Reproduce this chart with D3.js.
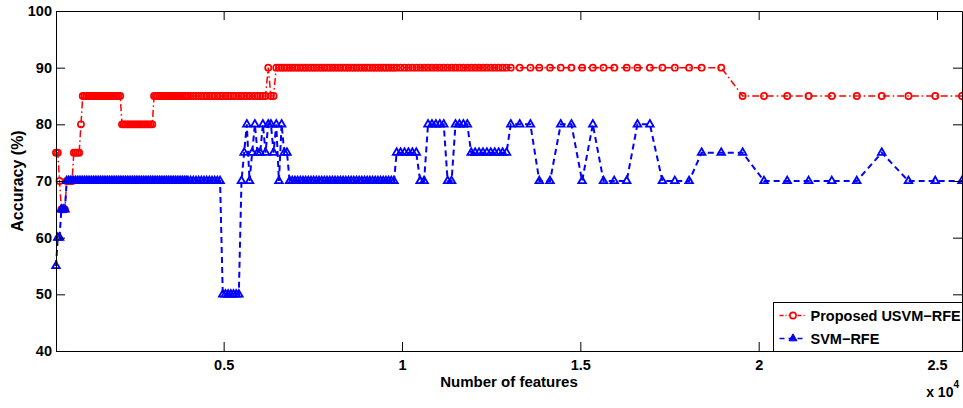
<!DOCTYPE html>
<html>
<head>
<meta charset="utf-8">
<script src="https://cdnjs.cloudflare.com/ajax/libs/d3/7.8.5/d3.min.js"></script>
<style>
  html, body { margin: 0; padding: 0; background: #fff; }
  svg { display: block; font-family: "Liberation Sans", Arial, Helvetica, sans-serif; font-weight: bold; }
</style>
</head>
<body>
<div id="chart"></div>
<script>
// Number of features kept at each RFE step (shared by both series)
const features = [
  300, 350, 400, 450, 500, 550, 600, 650, 700, 750,
  800, 850, 900, 950, 1000, 1050, 1100, 1150, 1200, 1250,
  1300, 1350, 1400, 1450, 1500, 1550, 1600, 1650, 1700, 1750,
  1800, 1850, 1900, 1950, 2000, 2050, 2100, 2150, 2200, 2250,
  2300, 2350, 2400, 2450, 2500, 2550, 2600, 2650, 2700, 2750,
  2800, 2850, 2900, 2950, 3000, 3050, 3100, 3150, 3200, 3250,
  3300, 3350, 3400, 3450, 3500, 3550, 3600, 3650, 3700, 3750,
  3800, 3850, 3900, 3950, 4000, 4075, 4150, 4225, 4300, 4375,
  4450, 4525, 4600, 4675, 4750, 4825, 4900, 4975, 5050, 5125,
  5200, 5275, 5350, 5425, 5500, 5575, 5650, 5725, 5800, 5875,
  5950, 6025, 6100, 6175, 6250, 6325, 6400, 6475, 6550, 6625,
  6700, 6775, 6850, 6925, 7000, 7075, 7150, 7225, 7300, 7375,
  7450, 7525, 7600, 7675, 7750, 7825, 7900, 7975, 8050, 8125,
  8200, 8275, 8350, 8425, 8500, 8575, 8650, 8725, 8800, 8875,
  8950, 9025, 9100, 9175, 9250, 9325, 9400, 9475, 9550, 9625,
  9700, 9775, 9850, 9960, 10070, 10180, 10290, 10400, 10510, 10620,
  10730, 10840, 10950, 11060, 11170, 11280, 11390, 11500, 11610, 11720,
  11830, 11940, 12050, 12160, 12270, 12380, 12490, 12600, 12710, 12820,
  12930, 13050, 13300, 13600, 13850, 14150, 14450, 14750, 15050, 15350,
  15650, 15950, 16300, 16600, 16950, 17300, 17650, 18050, 18400, 18950,
  19550, 20150, 20800, 21400, 22050, 22750, 23450, 24200, 24950, 25700
];

// Proposed USVM-RFE accuracy (%)
const usvmAccuracy = [
  75, 75, 70, 65, 65, 65, 70, 70, 70, 70,
  75, 75, 75, 75, 80, 85, 85, 85, 85, 85,
  85, 85, 85, 85, 85, 85, 85, 85, 85, 85,
  85, 85, 85, 85, 85, 85, 85, 80, 80, 80,
  80, 80, 80, 80, 80, 80, 80, 80, 80, 80,
  80, 80, 80, 80, 80, 85, 85, 85, 85, 85,
  85, 85, 85, 85, 85, 85, 85, 85, 85, 85,
  85, 85, 85, 85, 85, 85, 85, 85, 85, 85,
  85, 85, 85, 85, 85, 85, 85, 85, 85, 85,
  85, 85, 85, 85, 85, 85, 85, 85, 85, 85,
  85, 85, 85, 85, 90, 85, 85, 90, 90, 90,
  90, 90, 90, 90, 90, 90, 90, 90, 90, 90,
  90, 90, 90, 90, 90, 90, 90, 90, 90, 90,
  90, 90, 90, 90, 90, 90, 90, 90, 90, 90,
  90, 90, 90, 90, 90, 90, 90, 90, 90, 90,
  90, 90, 90, 90, 90, 90, 90, 90, 90, 90,
  90, 90, 90, 90, 90, 90, 90, 90, 90, 90,
  90, 90, 90, 90, 90, 90, 90, 90, 90, 90,
  90, 90, 90, 90, 90, 90, 90, 90, 90, 90,
  90, 90, 90, 90, 90, 90, 90, 90, 90, 90,
  85, 85, 85, 85, 85, 85, 85, 85, 85, 85
];

// SVM-RFE accuracy (%)
const svmAccuracy = [
  55, 60, 60, 65, 65, 65, 70, 70, 70, 70,
  70, 70, 70, 70, 70, 70, 70, 70, 70, 70,
  70, 70, 70, 70, 70, 70, 70, 70, 70, 70,
  70, 70, 70, 70, 70, 70, 70, 70, 70, 70,
  70, 70, 70, 70, 70, 70, 70, 70, 70, 70,
  70, 70, 70, 70, 70, 70, 70, 70, 70, 70,
  70, 70, 70, 70, 70, 70, 70, 70, 70, 70,
  70, 70, 70, 70, 70, 70, 70, 70, 70, 70,
  70, 70, 70, 70, 70, 70, 70, 50, 50, 50,
  50, 50, 50, 50, 70, 75, 80, 70, 75, 80,
  75, 75, 80, 75, 80, 80, 75, 80, 70, 80,
  75, 75, 70, 70, 70, 70, 70, 70, 70, 70,
  70, 70, 70, 70, 70, 70, 70, 70, 70, 70,
  70, 70, 70, 70, 70, 70, 70, 70, 70, 70,
  70, 70, 70, 70, 70, 70, 70, 70, 70, 70,
  70, 70, 75, 75, 75, 75, 75, 75, 70, 70,
  80, 80, 80, 80, 80, 70, 70, 80, 80, 80,
  80, 75, 75, 75, 75, 75, 75, 75, 75, 75,
  75, 80, 80, 80, 70, 70, 80, 80, 70, 80,
  70, 70, 70, 80, 80, 70, 70, 70, 75, 75,
  75, 70, 70, 70, 70, 70, 75, 70, 70, 70
];

const seriesNames = ["Proposed USVM\u2212RFE", "SVM\u2212RFE"];
const xTicks = [5000, 10000, 15000, 20000, 25000];
const yTicks = [40, 50, 60, 70, 80, 90, 100];

const width = 963, height = 408;
const margin = { top: 11, right: 1, bottom: 57, left: 56 };
const innerWidth = width - margin.left - margin.right;
const innerHeight = height - margin.top - margin.bottom;

const red = "#ff0000", blue = "#0000ff";

const svg = d3.select("#chart").append("svg")
  .attr("width", width)
  .attr("height", height);

const g = svg.append("g")
  .attr("transform", `translate(${margin.left},${margin.top})`);

// Scales (x is tight to the data, like MATLAB's axis tight)
const x = d3.scaleLinear()
  .domain(d3.extent(features))
  .range([0, innerWidth]);

const y = d3.scaleLinear()
  .domain([40, 100])
  .range([innerHeight, 0]);

const usvmData = features.map((f, i) => ({ f, v: usvmAccuracy[i] }));
const svmData = features.map((f, i) => ({ f, v: svmAccuracy[i] }));

const line = d3.line().x(d => x(d.f)).y(d => y(d.v));

const plot = g.append("g");

// Proposed USVM-RFE: red dash-dot with circles
plot.append("path")
  .datum(usvmData)
  .attr("fill", "none")
  .attr("stroke", red)
  .attr("stroke-width", 1.5)
  .attr("stroke-dasharray", "7,3,1.5,3")
  .attr("d", line);

plot.append("g").selectAll("circle")
  .data(usvmData)
  .join("circle")
  .attr("cx", d => x(d.f))
  .attr("cy", d => y(d.v))
  .attr("r", 3.1)
  .attr("fill", "none")
  .attr("stroke", red)
  .attr("stroke-width", 1.7);

// SVM-RFE: blue dashed with triangles
plot.append("path")
  .datum(svmData)
  .attr("fill", "none")
  .attr("stroke", blue)
  .attr("stroke-width", 2)
  .attr("stroke-dasharray", "6,4")
  .attr("d", line);

const tri = d3.symbol(d3.symbolTriangle, 25);

plot.append("g").selectAll("path")
  .data(svmData)
  .join("path")
  .attr("d", tri)
  .attr("transform", d => `translate(${x(d.f)},${y(d.v)})`)
  .attr("fill", "none")
  .attr("stroke", blue)
  .attr("stroke-width", 1.8);

// Axes: ticks pointing inward on all four sides
const fmtX = d => d3.format("~g")(d / 1e4);

g.append("g")
  .attr("transform", `translate(0,${innerHeight})`)
  .call(d3.axisBottom(x).tickValues(xTicks).tickFormat(fmtX)
    .tickSizeInner(-9).tickSizeOuter(0).tickPadding(9));

g.append("g")
  .call(d3.axisTop(x).tickValues(xTicks)
    .tickSizeInner(-9).tickSizeOuter(0))
  .call(a => a.selectAll("text").remove());

g.append("g")
  .call(d3.axisLeft(y).tickValues(yTicks)
    .tickSizeInner(-9).tickSizeOuter(0).tickPadding(4));

g.append("g")
  .attr("transform", `translate(${innerWidth},0)`)
  .call(d3.axisRight(y).tickValues(yTicks)
    .tickSizeInner(-9).tickSizeOuter(0))
  .call(a => a.selectAll("text").remove());

g.selectAll(".domain, .tick line").attr("stroke", "#000");
g.selectAll(".tick text")
  .attr("fill", "#000")
  .style("font-size", "14.5px")
  .style("font-weight", "bold");

// Axis labels
g.append("text")
  .attr("x", innerWidth / 2)
  .attr("y", innerHeight + 36)
  .attr("text-anchor", "middle")
  .style("font-size", "15px")
  .text("Number of features");

g.append("text")
  .attr("transform", "rotate(-90)")
  .attr("x", -innerHeight / 2)
  .attr("y", -33)
  .attr("text-anchor", "middle")
  .style("font-size", "16px")
  .text("Accuracy (%)");

// x 10^4 multiplier
const mult = g.append("text")
  .attr("x", innerWidth - 3)
  .attr("y", innerHeight + 46)
  .attr("text-anchor", "end")
  .style("font-size", "14px");
mult.append("tspan").text("x 10");
mult.append("tspan")
  .attr("dy", -9)
  .style("font-size", "10px")
  .text("4");

// Legend
const legend = g.append("g")
  .attr("transform", `translate(${717.5},${291.5})`);

legend.append("rect")
  .attr("width", 189)
  .attr("height", 49)
  .attr("fill", "#fff")
  .attr("stroke", "#000");

const rows = [
  { name: seriesNames[0], color: red, dash: "4,2,1,2", marker: "circle", yy: 13 },
  { name: seriesNames[1], color: blue, dash: "5,4", marker: "triangle", yy: 36 }
];

rows.forEach(r => {
  legend.append("line")
    .attr("x1", 6).attr("x2", 33)
    .attr("y1", r.yy).attr("y2", r.yy)
    .attr("stroke", r.color)
    .attr("stroke-width", 1.5)
    .attr("stroke-dasharray", r.dash);
  if (r.marker === "circle") {
    legend.append("circle")
      .attr("cx", 19.5).attr("cy", r.yy).attr("r", 3.1)
      .attr("fill", "#fff").attr("stroke", r.color).attr("stroke-width", 1.6);
  } else {
    legend.append("path")
      .attr("d", d3.symbol(d3.symbolTriangle, 28))
      .attr("transform", `translate(19.5,${r.yy})`)
      .attr("fill", r.color).attr("stroke", r.color).attr("stroke-width", 1);
  }
  legend.append("text")
    .attr("x", 37)
    .attr("y", r.yy + 5)
    .style("font-size", "14.5px")
    .text(r.name);
});
</script>
</body>
</html>
